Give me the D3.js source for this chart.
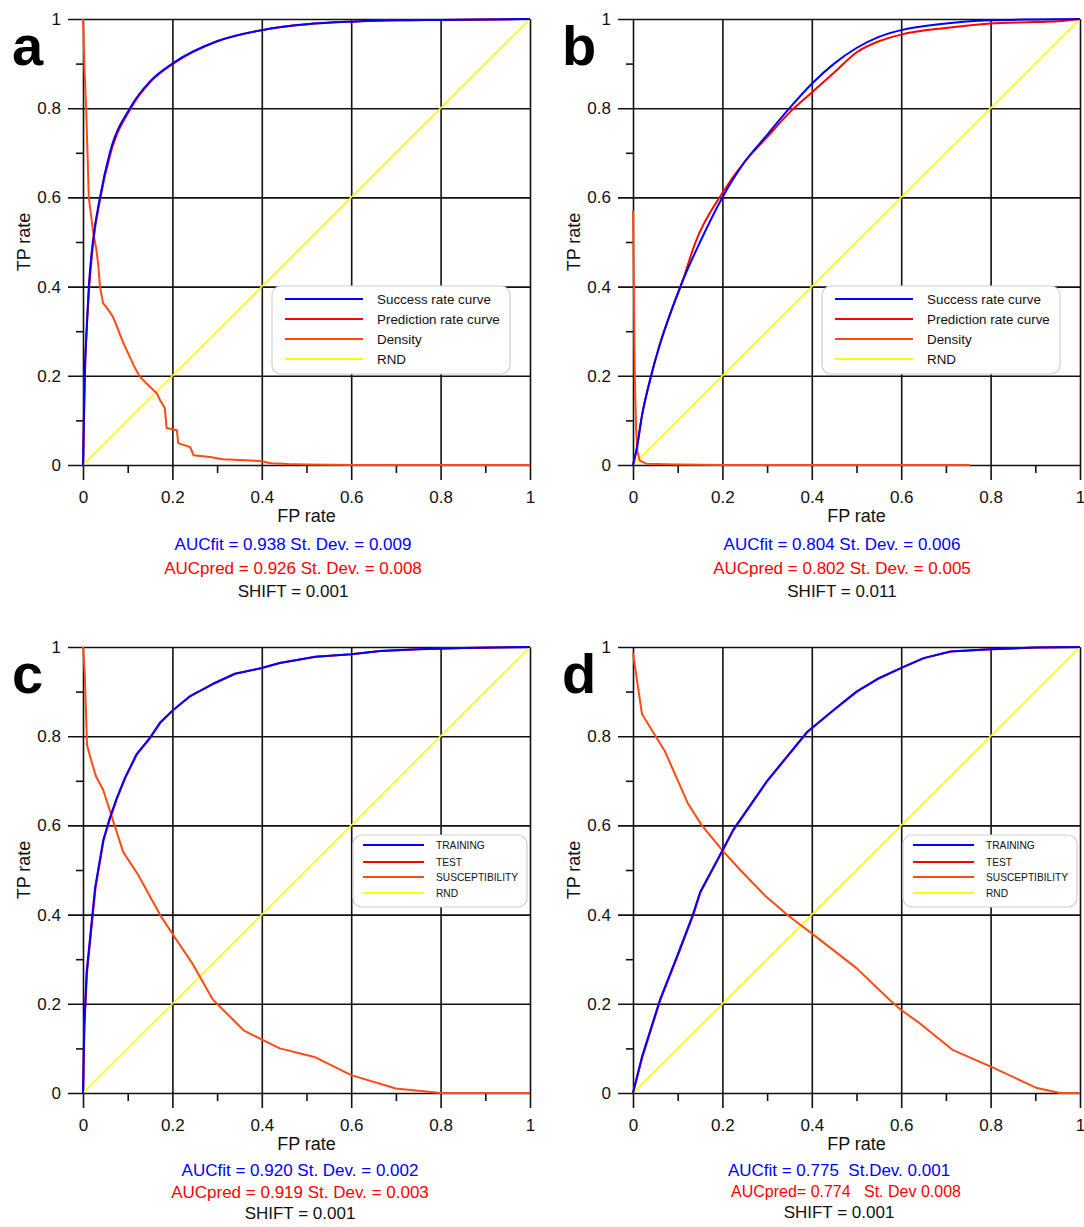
<!DOCTYPE html>
<html>
<head>
<meta charset="utf-8">
<script src="https://cdn.jsdelivr.net/npm/d3@7"></script>
<style>
  body { margin: 0; background: #fff; }
  svg { display: block; font-family: "Liberation Sans", Arial, sans-serif; }
</style>
</head>
<body>
<div id="chart"></div>
<script>
// ticks shared by every panel
const majorTicks = [0, 0.2, 0.4, 0.6, 0.8, 1];
const majorLabels = ['0', '0.2', '0.4', '0.6', '0.8', '1'];
const minorTicks = [0.1, 0.3, 0.5, 0.7, 0.9];
const rndLine = [[0, 0], [1, 1]];

// panel a
const aFitFpr = [0, 0.002, 0.004, 0.008, 0.013, 0.022, 0.038, 0.06, 0.105, 0.15, 0.2, 0.3, 0.4, 0.5, 0.6, 0.7, 0.8, 0.9, 1];
const aFitTpr = [0, 0.1, 0.2, 0.3, 0.4, 0.5, 0.6, 0.7, 0.8, 0.86, 0.9, 0.95, 0.975, 0.988, 0.994, 0.997, 0.998, 0.999, 1];
const aPredFpr = [0, 0.002, 0.004, 0.008, 0.014, 0.023, 0.039, 0.062, 0.107, 0.152, 0.202, 0.3, 0.4, 0.5, 0.6, 0.7, 0.8, 0.9, 1];
const aPredTpr = aFitTpr;
const aDensFpr = [0, 0.003, 0.007, 0.01, 0.013, 0.018, 0.022, 0.03, 0.034, 0.038, 0.045, 0.055, 0.067, 0.076, 0.09, 0.105, 0.115, 0.128, 0.145, 0.165, 0.172, 0.183, 0.187, 0.21, 0.213, 0.24, 0.247, 0.284, 0.313, 0.396, 0.42, 0.46, 0.5, 0.6, 1];
const aDensVal = [1, 0.9, 0.8, 0.7, 0.6, 0.56, 0.527, 0.482, 0.45, 0.4, 0.363, 0.35, 0.332, 0.31, 0.274, 0.242, 0.22, 0.197, 0.18, 0.161, 0.146, 0.128, 0.083, 0.078, 0.049, 0.04, 0.022, 0.018, 0.013, 0.009, 0.004, 0.002, 0.001, 0, 0];
const aStats = ['AUCfit = 0.938 St. Dev. = 0.009', 'AUCpred = 0.926 St. Dev. = 0.008', 'SHIFT = 0.001'];

// panel b
const bFitFpr = [0, 0.008, 0.02, 0.038, 0.06, 0.08, 0.11, 0.15, 0.2, 0.25, 0.3, 0.35, 0.4, 0.45, 0.5, 0.55, 0.6, 0.7, 0.8, 0.9, 1];
const bFitTpr = [0, 0.035, 0.11, 0.19, 0.27, 0.33, 0.41, 0.5, 0.6, 0.68, 0.74, 0.8, 0.855, 0.9, 0.935, 0.96, 0.975, 0.99, 0.997, 0.999, 1];
const bPredFpr = [0, 0.008, 0.02, 0.038, 0.06, 0.08, 0.11, 0.14, 0.2, 0.25, 0.3, 0.35, 0.4, 0.45, 0.5, 0.55, 0.6, 0.7, 0.8, 0.9, 0.95, 1];
const bPredTpr = [0, 0.035, 0.11, 0.19, 0.27, 0.33, 0.41, 0.5, 0.61, 0.68, 0.735, 0.79, 0.835, 0.88, 0.925, 0.95, 0.965, 0.98, 0.99, 0.993, 0.995, 1];
const bDensFpr = [0, 0.002, 0.004, 0.007, 0.01, 0.015, 0.03, 0.1, 0.2, 0.754];
const bDensVal = [0.57, 0.4, 0.2, 0.08, 0.03, 0.01, 0.003, 0.001, 0, 0];
const bStats = ['AUCfit = 0.804 St. Dev. = 0.006', 'AUCpred = 0.802 St. Dev. = 0.005', 'SHIFT = 0.011'];

// panel c
const cFitFpr = [0, 0.003, 0.008, 0.016, 0.027, 0.045, 0.06, 0.075, 0.094, 0.12, 0.15, 0.172, 0.2, 0.24, 0.29, 0.34, 0.4, 0.44, 0.52, 0.6, 0.665, 0.75, 0.85, 1];
const cFitTpr = [0, 0.15, 0.27, 0.35, 0.46, 0.566, 0.617, 0.66, 0.707, 0.76, 0.797, 0.83, 0.857, 0.89, 0.917, 0.94, 0.953, 0.964, 0.978, 0.984, 0.991, 0.995, 0.998, 1];
const cPredFpr = [0, 0.003, 0.009, 0.017, 0.028, 0.046, 0.061, 0.076, 0.095, 0.121, 0.151, 0.173, 0.2, 0.24, 0.29, 0.34, 0.4, 0.44, 0.52, 0.6, 0.665, 0.75, 0.85, 1];
const cPredTpr = cFitTpr;
const cDensFpr = [0, 0.004, 0.009, 0.02, 0.029, 0.045, 0.09, 0.123, 0.172, 0.21, 0.245, 0.29, 0.36, 0.44, 0.52, 0.6, 0.7, 0.8, 1];
const cDensVal = [1, 0.94, 0.78, 0.74, 0.71, 0.68, 0.54, 0.49, 0.4, 0.342, 0.29, 0.21, 0.14, 0.1, 0.08, 0.04, 0.01, 0, 0];
const cStats = ['AUCfit = 0.920 St. Dev. = 0.002', 'AUCpred = 0.919 St. Dev. = 0.003', 'SHIFT = 0.001'];

// panel d
const dFitFpr = [0, 0.02, 0.06, 0.1, 0.134, 0.15, 0.2, 0.224, 0.3, 0.39, 0.45, 0.5, 0.55, 0.6, 0.65, 0.71, 0.8, 0.9, 1];
const dFitTpr = [0, 0.081, 0.208, 0.31, 0.4, 0.45, 0.544, 0.59, 0.7, 0.81, 0.86, 0.9, 0.93, 0.953, 0.975, 0.99, 0.995, 0.999, 1];
const dPredFpr = [0, 0.021, 0.061, 0.101, 0.135, 0.151, 0.201, 0.225, 0.301, 0.391, 0.451, 0.501, 0.551, 0.601, 0.651, 0.711, 0.8, 0.9, 1];
const dPredTpr = dFitTpr;
const dDensFpr = [0, 0.02, 0.071, 0.123, 0.154, 0.2, 0.24, 0.295, 0.347, 0.41, 0.5, 0.575, 0.6, 0.642, 0.716, 0.803, 0.904, 0.955, 1];
const dDensVal = [0.987, 0.85, 0.767, 0.649, 0.6, 0.544, 0.5, 0.443, 0.398, 0.35, 0.28, 0.208, 0.186, 0.156, 0.096, 0.058, 0.011, 0, 0];
const dStats = ['AUCfit = 0.775  St.Dev. 0.001', 'AUCpred= 0.774   St. Dev 0.008', 'SHIFT = 0.001'];

const legendTop = ['Success rate curve', 'Prediction rate curve', 'Density', 'RND'];
const legendBottom = ['TRAINING', 'TEST', 'SUSCEPTIBILITY', 'RND'];
const seriesColors = ['#0000ff', '#ff0000', '#ff4a12', '#ffff00'];

const zip = (xs, ys) => xs.map((x, i) => [x, ys[i]]);

const svg = d3.select('#chart').append('svg')
    .attr('width', 1084)
    .attr('height', 1227);

svg.append('rect').attr('width', 1084).attr('height', 1227).attr('fill', '#fff');

const width = 447, height = 446;

function drawPanel(p) {
  const g = svg.append('g').attr('transform', `translate(${p.left}, ${p.top})`);
  const x = d3.scaleLinear().domain([0, 1]).range([0, width]);
  const y = d3.scaleLinear().domain([0, 1]).range([height, 0]);

  // y axis: major ticks become horizontal grid lines
  const yAx = g.append('g').call(d3.axisLeft(y)
      .tickValues(majorTicks).tickFormat((d, i) => majorLabels[i])
      .tickSize(15).tickPadding(7));
  yAx.selectAll('.tick line').attr('x1', width);
  g.append('g').call(d3.axisLeft(y).tickValues(minorTicks).tickFormat('').tickSize(7));

  const xAx = g.append('g').attr('transform', `translate(0, ${height})`)
    .call(d3.axisBottom(x)
      .tickValues(majorTicks).tickFormat((d, i) => majorLabels[i])
      .tickSize(15).tickPadding(11));
  xAx.selectAll('.tick line').attr('y1', -height);
  g.append('g').attr('transform', `translate(0, ${height})`)
    .call(d3.axisBottom(x).tickValues(minorTicks).tickFormat('').tickSize(8));

  g.selectAll('.domain').remove();
  g.selectAll('.tick line').attr('stroke', '#111').attr('stroke-width', 1.6);
  g.selectAll('.tick text').attr('font-size', 17).attr('fill', '#111')
    .attr('font-family', '"Liberation Sans", Arial, sans-serif');

  const straight = d3.line().x(d => x(d[0])).y(d => y(d[1]));
  const smooth = d3.line().x(d => x(d[0])).y(d => y(d[1])).curve(d3.curveMonotoneX);
  const rocLine = p.smooth ? smooth : straight;

  const series = [
    { data: rndLine, color: seriesColors[3], w: 1.6, gen: straight },
    { data: p.dens, color: seriesColors[2], w: 2, gen: straight },
    { data: p.pred, color: seriesColors[1], w: 2, gen: rocLine },
    { data: p.fit, color: seriesColors[0], w: 2, gen: rocLine }
  ];
  g.selectAll('path.series').data(series).enter().append('path')
    .attr('class', 'series')
    .attr('d', d => d.gen(d.data))
    .attr('fill', 'none')
    .attr('stroke', d => d.color)
    .attr('stroke-width', d => d.w)
    .attr('stroke-linejoin', 'round');

  // legend
  const L = p.legend;
  const lg = g.append('g');
  lg.append('rect')
    .attr('x', L.x0).attr('y', L.y0)
    .attr('width', L.x1 - L.x0).attr('height', L.y1 - L.y0)
    .attr('rx', 9)
    .attr('fill', '#fff').attr('stroke', '#cfcfcf').attr('stroke-width', 1.2);
  const rows = lg.selectAll('g.row').data(L.labels).enter().append('g')
    .attr('class', 'row')
    .attr('transform', (d, i) => `translate(0, ${L.rows[i]})`);
  rows.append('line')
    .attr('x1', L.lx0).attr('x2', L.lx1)
    .attr('stroke', (d, i) => seriesColors[i]).attr('stroke-width', 2);
  rows.append('text')
    .attr('x', L.tx).attr('dy', '0.35em')
    .attr('font-size', L.fs).attr('fill', '#111')
    .text(d => d);

  // axis titles
  g.append('text')
    .attr('x', width / 2).attr('y', p.fpY)
    .attr('text-anchor', 'middle').attr('font-size', 18).attr('fill', '#111')
    .text('FP rate');
  g.append('text')
    .attr('transform', `translate(${-53}, ${height / 2}) rotate(-90)`)
    .attr('text-anchor', 'middle').attr('font-size', 18).attr('fill', '#111')
    .text('TP rate');

  // panel letter
  g.append('text')
    .attr('x', -71).attr('y', 46)
    .attr('font-size', 56).attr('font-weight', 'bold').attr('fill', '#000')
    .text(p.letter);

  // stats under the panel
  const statColors = ['#0000ff', '#ff0000', '#111'];
  g.selectAll('text.stat').data(p.stats).enter().append('text')
    .attr('class', 'stat')
    .attr('x', (d, i) => p.statX[i])
    .attr('y', (d, i) => p.statY[i])
    .attr('text-anchor', 'middle')
    .attr('font-size', (d, i) => p.statFs[i])
    .attr('fill', (d, i) => statColors[i])
    .style('white-space', 'pre')
    .text(d => d);
}

const legendA = { x0: 189, x1: 427, y0: 267, y1: 355, rows: [280, 300, 320, 340], lx0: 202, lx1: 280, tx: 294, fs: 13.4, labels: legendTop };
const legendC = { x0: 270, x1: 444, y0: 188, y1: 260, rows: [198, 215, 230, 246], lx0: 280, lx1: 341, tx: 353, fs: 10.2, labels: legendBottom };

drawPanel({
  letter: 'a', left: 83, top: 19, smooth: true,
  fit: zip(aFitFpr, aFitTpr), pred: zip(aPredFpr, aPredTpr), dens: zip(aDensFpr, aDensVal),
  stats: aStats, statX: [210, 210, 210], statY: [531, 555, 578], statFs: [17, 17, 17],
  fpY: 503, legend: legendA
});
drawPanel({
  letter: 'b', left: 633, top: 19, smooth: true,
  fit: zip(bFitFpr, bFitTpr), pred: zip(bPredFpr, bPredTpr), dens: zip(bDensFpr, bDensVal),
  stats: bStats, statX: [209, 209, 209], statY: [531, 555, 578], statFs: [17, 17, 17],
  fpY: 503, legend: legendA
});
drawPanel({
  letter: 'c', left: 83, top: 647, smooth: false,
  fit: zip(cFitFpr, cFitTpr), pred: zip(cPredFpr, cPredTpr), dens: zip(cDensFpr, cDensVal),
  stats: cStats, statX: [217, 217, 217], statY: [529, 551, 572], statFs: [17, 17, 17],
  fpY: 503, legend: legendC
});
drawPanel({
  letter: 'd', left: 633, top: 647, smooth: false,
  fit: zip(dFitFpr, dFitTpr), pred: zip(dPredFpr, dPredTpr), dens: zip(dDensFpr, dDensVal),
  stats: dStats, statX: [206, 213, 206], statY: [529, 550, 571], statFs: [17, 16, 17],
  fpY: 503, legend: legendC
});
</script>
</body>
</html>
